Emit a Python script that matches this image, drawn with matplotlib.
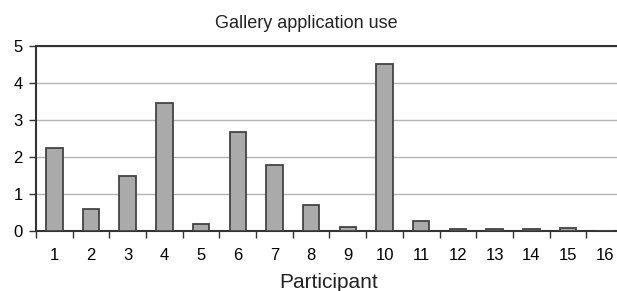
import matplotlib.pyplot as plt

plt.rcParams['font.family'] = ['Liberation Sans', 'DejaVu Sans']

# Data
participants = list(range(1, 17))
usage = [2.25, 0.6, 1.5, 3.45, 0.2, 2.67, 1.8, 0.7, 0.12, 4.5,
         0.27, 0.07, 0.05, 0.07, 0.1, 0.0]
tick_labels = [str(p) for p in participants]

fig = plt.figure(figsize=(6.17, 2.91), dpi=100)
# axes runs a bit past the right edge, as in the original
ax = fig.add_axes([0.0583, 0.205, 0.9514, 0.638])

ax.bar(participants, usage, width=0.45, color='#aaaaaa',
       edgecolor='#444444', linewidth=1.3, zorder=3)

ax.set_xlim(0.5, 16.5)
ax.set_ylim(0, 5)
ax.set_yticks(range(0, 6))
ax.yaxis.grid(True, color='#b4b4b4', linewidth=1, zorder=0)

# boundaries as major ticks, labels on minor ticks at category centres
ax.set_xticks([p + 0.5 for p in range(0, 17)])
ax.set_xticklabels([])
ax.set_xticks(participants, minor=True)
ax.set_xticklabels(tick_labels, minor=True)
ax.tick_params(axis='x', which='major', length=5, width=1, color='#333333')
ax.tick_params(axis='x', which='minor', length=0, labelsize=12, pad=12)
ax.tick_params(axis='y', length=5, width=1, color='#333333', labelsize=12, pad=4.5)

for s in ['left', 'bottom', 'top']:
    ax.spines[s].set_color('#333333')
    ax.spines[s].set_linewidth(1.5)
ax.spines['right'].set_visible(False)

fig.text(0.497, 0.904, 'Gallery application use', fontsize=13,
         ha='center', va='baseline', color='#222222')
fig.text(0.532, 0.011, 'Participant', fontsize=15,
         ha='center', va='baseline', color='#222222')

fig.savefig('out.png', dpi=100)
